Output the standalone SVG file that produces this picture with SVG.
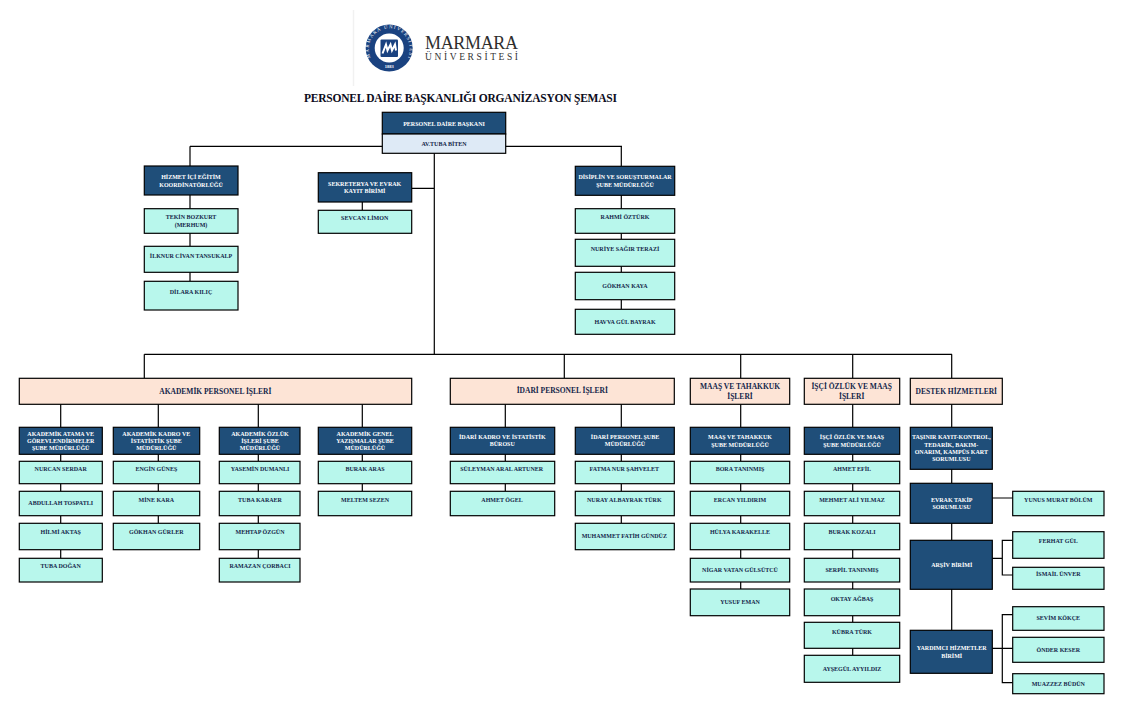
<svg xmlns="http://www.w3.org/2000/svg" width="1127" height="709" viewBox="0 0 1127 709">
<style>
text{font-family:"Liberation Serif","Times New Roman",serif;font-weight:bold;text-anchor:middle}
rect{stroke:#000;stroke-width:1.2}
.d rect{fill:#1f4e79}.d text{fill:#fff;font-size:6px}
.n rect{fill:#b8f7ec}.n text{fill:#14264a;font-size:6px}
.p rect{fill:#fde4d6}.p text{fill:#14264a;font-size:7.5px}
.c{fill:none;stroke:#000;stroke-width:1.2}
</style>
<rect width="1127" height="709" fill="#fff" style="stroke:none"/>
<g id="logo">
<path d="M353.500 10V86" stroke="#f1f1f1" stroke-width="1.500"/>
<circle cx="389.200" cy="48" r="23.500" fill="#1a4280"/>
<circle cx="389.200" cy="48" r="14.500" fill="#fff"/>
<rect x="380.500" y="39.500" width="17.500" height="17.500" rx="1" style="fill:#1a4280;stroke:none"/>
<path d="M382.500 53.500l3.500-9 1.500 6 3-6 1.500 6 3-6 1 6" fill="none" stroke="#fff" stroke-width="2"/>
<path id="ringTop" d="M372 60A20.500 20.500 0 1 1 406.400 60" fill="none"/>
<text font-size="4.800" fill="#fff" style="font-weight:normal"><textPath href="#ringTop" startOffset="50%" textLength="82" lengthAdjust="spacing">MARMARA ÜNİVERSİTESİ</textPath></text>
<text font-size="4.500" fill="#fff" x="389.200" y="67.500">1883</text>
<text x="425" y="48.500" font-size="18" fill="#2e2e2e" textLength="93" style="text-anchor:start;font-weight:normal">MARMARA</text>
<text x="425" y="59.500" font-size="9.500" fill="#333" textLength="93" lengthAdjust="spacing" style="text-anchor:start;font-weight:normal">ÜNİVERSİTESİ</text>
</g>
<text id="title" x="460.500" y="101.500" font-size="11.500" fill="#0c0c20" textLength="313">PERSONEL DAİRE BAŞKANLIĞI ORGANİZASYON ŞEMASI</text>
<g id="connectors">
<path class="c" d="M190 146.300H622M190 146.300V166M621.300 146.300V166M434.300 153V354.300M411.700 188.300H434.300
M190 195V209M190 233V246M190 272V281M362.300 202V210
M621.300 195V209M621.300 233V239M621.300 266V272M621.300 300V309
M144.300 354.300H952M144.300 354.300V378M564.300 354.300V378M740.700 354.300V378M852.700 354.300V378M951.700 354.300V378
M60.700 404V427M60.700 454V461M60.700 484V491M60.700 516V523M60.700 550V558
M158.300 404V427M158.300 454V461M158.300 484V491M158.300 516V523
M258.300 404V427M258.300 454V461M258.300 484V491M258.300 516V523M258.300 550V558
M362.300 404V427M362.300 454V461M362.300 484V491
M505.300 404V427M505.300 454V461M505.300 484V491
M621.300 404V427M621.300 454V461M621.300 484V491M621.300 516V523
M740.700 404V427M740.700 454V461M740.700 484V491M740.700 516V523M740.700 550V558M740.700 582V589
M852.700 404V427M852.700 454V461M852.700 484V491M852.700 516V523M852.700 550V558M852.700 582V589M852.700 616V622M852.700 648V655
M951.700 404V427M951.700 469V483M951.700 523V540M951.700 589V630
M992 498H1013M992 558.300H1002.300M1013 540.300H1002.300V575H1013M992 648.300H1013M1013 614.700H1002.300V682.700H1013"/>
</g>
<g id="head">
<rect x="382.300" y="112.300" width="123.400" height="21.700" fill="#1f4e79"/>
<rect x="382.300" y="134" width="123.400" height="19.300" fill="#deeaf6"/>
<text x="444" y="125.700" font-size="6" fill="#fff">PERSONEL DAİRE BAŞKANI</text>
<text x="444" y="145.700" font-size="6" fill="#14264a">AV.TUBA BİTEN</text>
</g>
<g id="hizmet" class="d"><rect x="144.300" y="166" width="93.700" height="29"/><text x="191" y="178.700">HİZMET İÇİ EĞİTİM</text><text x="191" y="186.700">KOORDİNATÖRLÜĞÜ</text></g>
<g id="tekin" class="n"><rect x="144.300" y="208.700" width="93.700" height="24.600"/><text x="191" y="218.700">TEKİN BOZKURT</text><text x="191" y="227">(MERHUM)</text></g>
<g id="ilknur" class="n"><rect x="144.300" y="246.300" width="93.700" height="26"/><text x="191" y="257.700">İLKNUR CİVAN TANSUKALP</text></g>
<g id="dilara" class="n"><rect x="144.300" y="281.300" width="93.700" height="28.700"/><text x="191" y="293.700">DİLARA KILIÇ</text></g>
<g id="sekreterya" class="d"><rect x="318.300" y="172.700" width="93.400" height="29.300"/><text x="364.700" y="186">SEKRETERYA VE EVRAK</text><text x="364.700" y="192.700">KAYIT  BİRİMİ</text></g>
<g id="sevcan" class="n"><rect x="318.300" y="210.300" width="93.400" height="23"/><text x="364.700" y="219.700">SEVCAN LİMON</text></g>
<g id="disiplin" class="d"><rect x="575.300" y="166.300" width="99.400" height="29"/><text x="625" y="179">DİSİPLİN VE SORUŞTURMALAR</text><text x="625" y="187">ŞUBE MÜDÜRLÜĞÜ</text></g>
<g id="rahmi" class="n"><rect x="575.300" y="208.700" width="99.400" height="24.600"/><text x="625" y="218.700">RAHMİ ÖZTÜRK</text></g>
<g id="nuriye" class="n"><rect x="575.300" y="239.300" width="99.400" height="27"/><text x="625" y="251">NURİYE SAĞIR TERAZİ</text></g>
<g id="gokhan" class="n"><rect x="575.300" y="272.300" width="99.400" height="27.400"/><text x="625" y="288">GÖKHAN KAYA</text></g>
<g id="havva" class="n"><rect x="575.300" y="309.300" width="99.400" height="25"/><text x="625" y="323.700">HAVVA GÜL BAYRAK</text></g>

<g id="akademik" class="p"><rect x="19.300" y="378.300" width="392.400" height="26"/><text x="215.300" y="393.500">AKADEMİK PERSONEL İŞLERİ</text></g>
<g id="idari" class="p"><rect x="450.300" y="378.300" width="224" height="26"/><text x="562.300" y="393.300">İDARİ PERSONEL İŞLERİ</text></g>
<g id="maas" class="p"><rect x="690.300" y="378.300" width="99.400" height="26"/><text x="740" y="389">MAAŞ VE TAHAKKUK</text><text x="740" y="399.300">İŞLERİ</text></g>
<g id="isci" class="p"><rect x="804.300" y="378.300" width="95.400" height="26"/><text x="851.700" y="389">İŞÇİ ÖZLÜK VE MAAŞ</text><text x="851.700" y="399.300">İŞLERİ</text></g>
<g id="destek" class="p"><rect x="910.300" y="378.300" width="92" height="26"/><text x="956.300" y="393.500">DESTEK HİZMETLERİ</text></g>

<g id="aka-atama" class="d"><rect x="19.300" y="427.300" width="83" height="27"/><text x="60.700" y="436">AKADEMİK ATAMA VE</text><text x="60.700" y="443">GÖREVLENDİRMELER</text><text x="60.700" y="449.700">ŞUBE MÜDÜRLÜĞÜ</text></g>
<g id="nurcan" class="n"><rect x="19.300" y="461.300" width="83" height="22.400"/><text x="60.700" y="471">NURCAN SERDAR</text></g>
<g id="abdullah" class="n"><rect x="19.300" y="491.300" width="83" height="24.400"/><text x="60.700" y="504.700">ABDULLAH TOSPATLI</text></g>
<g id="hilmi" class="n"><rect x="19.300" y="523.300" width="83" height="26.400"/><text x="60.700" y="533.700">HİLMİ AKTAŞ</text></g>
<g id="tuba-d" class="n"><rect x="19.300" y="558.300" width="83" height="23.700"/><text x="60.700" y="567.700">TUBA DOĞAN</text></g>

<g id="aka-kadro" class="d"><rect x="113.300" y="427.300" width="86.400" height="27"/><text x="156.300" y="436">AKADEMİK KADRO VE</text><text x="156.300" y="443">İSTATİSTİK ŞUBE</text><text x="156.300" y="449.700">MÜDÜRLÜĞÜ</text></g>
<g id="engin" class="n"><rect x="113.300" y="461.300" width="86.400" height="22.400"/><text x="156.300" y="471">ENGİN GÜNEŞ</text></g>
<g id="mine" class="n"><rect x="113.300" y="491.300" width="86.400" height="24.400"/><text x="156.300" y="502">MİNE KARA</text></g>
<g id="gokhan-g" class="n"><rect x="113.300" y="523.300" width="86.400" height="26.400"/><text x="156.300" y="533.700">GÖKHAN GÜRLER</text></g>

<g id="aka-ozluk" class="d"><rect x="219.300" y="427.300" width="80.700" height="27"/><text x="260" y="436">AKADEMİK ÖZLÜK</text><text x="260" y="443">İŞLERİ ŞUBE</text><text x="260" y="449.700">MÜDÜRLÜĞÜ</text></g>
<g id="yasemin" class="n"><rect x="219.300" y="461.300" width="80.700" height="22.400"/><text x="260" y="471">YASEMİN DUMANLI</text></g>
<g id="tuba-k" class="n"><rect x="219.300" y="491.300" width="80.700" height="24.400"/><text x="260" y="502">TUBA KARAER</text></g>
<g id="mehtap" class="n"><rect x="219.300" y="523.300" width="80.700" height="26.400"/><text x="260" y="533.700">MEHTAP ÖZGÜN</text></g>
<g id="ramazan" class="n"><rect x="219.300" y="558.300" width="80.700" height="23.700"/><text x="260" y="567.700">RAMAZAN ÇORBACI</text></g>

<g id="aka-genel" class="d"><rect x="318.300" y="427.300" width="93.400" height="27"/><text x="365" y="436">AKADEMİK GENEL</text><text x="365" y="443">YAZIŞMALAR ŞUBE</text><text x="365" y="449.700">MÜDÜRLÜĞÜ</text></g>
<g id="burak-a" class="n"><rect x="318.300" y="461.300" width="93.400" height="22.400"/><text x="365" y="471">BURAK ARAS</text></g>
<g id="meltem" class="n"><rect x="318.300" y="491.300" width="93.400" height="24.400"/><text x="365" y="502">MELTEM SEZEN</text></g>

<g id="idari-kadro" class="d"><rect x="450.300" y="427.300" width="104.400" height="27"/><text x="502.300" y="438.700">İDARİ  KADRO VE İSTATİSTİK</text><text x="502.300" y="446.300">BÜROSU</text></g>
<g id="suleyman" class="n"><rect x="450.300" y="461.300" width="104.400" height="22.400"/><text x="501.700" y="471">SÜLEYMAN ARAL ARTUNER</text></g>
<g id="ahmet-o" class="n"><rect x="450.300" y="491.300" width="104.400" height="24.400"/><text x="502" y="502">AHMET ÖGEL</text></g>

<g id="idari-personel" class="d"><rect x="575.300" y="427.300" width="99" height="27"/><text x="625" y="438.700">İDARİ  PERSONEL ŞUBE</text><text x="625" y="446.300">MÜDÜRLÜĞÜ</text></g>
<g id="fatma" class="n"><rect x="575.300" y="461.300" width="99" height="22.400"/><text x="624.300" y="471">FATMA NUR ŞAHVELET</text></g>
<g id="nuray" class="n"><rect x="575.300" y="491.300" width="99" height="24.400"/><text x="624.300" y="502">NURAY ALBAYRAK TÜRK</text></g>
<g id="muhammet" class="n"><rect x="575.300" y="523.300" width="99" height="26.400"/><text x="624.300" y="538">MUHAMMET FATİH GÜNDÜZ</text></g>

<g id="maas-sube" class="d"><rect x="690.300" y="427.300" width="99.400" height="27"/><text x="740" y="438.700">MAAŞ VE TAHAKKUK</text><text x="740" y="447">ŞUBE MÜDÜRLÜĞÜ</text></g>
<g id="bora" class="n"><rect x="690.300" y="461.300" width="99.400" height="22.400"/><text x="740" y="471">BORA TANINMIŞ</text></g>
<g id="ercan" class="n"><rect x="690.300" y="491.300" width="99.400" height="24.400"/><text x="740" y="502">ERCAN YILDIRIM</text></g>
<g id="hulya" class="n"><rect x="690.300" y="523.300" width="99.400" height="26.400"/><text x="740" y="534">HÜLYA KARAKELLE</text></g>
<g id="nigar" class="n"><rect x="690.300" y="558.300" width="99.400" height="23.700"/><text x="740" y="571.700">NİGAR VATAN GÜLSÜTCÜ</text></g>
<g id="yusuf" class="n"><rect x="690.300" y="589" width="99.400" height="26.700"/><text x="740" y="604">YUSUF EMAN</text></g>

<g id="isci-sube" class="d"><rect x="804.300" y="427.300" width="95.400" height="27"/><text x="852" y="438.700">İŞÇİ ÖZLÜK VE MAAŞ</text><text x="852" y="447">ŞUBE MÜDÜRLÜĞÜ</text></g>
<g id="ahmet-e" class="n"><rect x="804.300" y="461.300" width="95.400" height="22.400"/><text x="852" y="471">AHMET EFİL</text></g>
<g id="mehmet" class="n"><rect x="804.300" y="491.300" width="95.400" height="24.400"/><text x="852" y="502">MEHMET ALİ YILMAZ</text></g>
<g id="burak-k" class="n"><rect x="804.300" y="523.300" width="95.400" height="26.400"/><text x="852" y="534">BURAK KOZALI</text></g>
<g id="serpil" class="n"><rect x="804.300" y="558.300" width="95.400" height="23.700"/><text x="852" y="572">SERPİL TANINMIŞ</text></g>
<g id="oktay" class="n"><rect x="804.300" y="589" width="95.400" height="26.700"/><text x="852" y="601">OKTAY AĞBAŞ</text></g>
<g id="kubra" class="n"><rect x="804.300" y="622.300" width="95.400" height="26"/><text x="852" y="634">KÜBRA TÜRK</text></g>
<g id="aysegul" class="n"><rect x="804.300" y="655.300" width="95.400" height="27"/><text x="852" y="671">AYŞEGÜL AYYILDIZ</text></g>

<g id="tasinir" class="d"><rect x="910.300" y="427.300" width="82" height="42"/><text x="951.300" y="439.300">TAŞINIR KAYIT-KONTROL,</text><text x="951.300" y="447">TEDARİK, BAKIM-</text><text x="951.300" y="454.300">ONARIM, KAMPÜS KART</text><text x="951.300" y="461.300">SORUMLUSU</text></g>
<g id="evrak" class="d"><rect x="910.300" y="483.300" width="82" height="40"/><text x="951.700" y="502">EVRAK  TAKİP</text><text x="951.700" y="509">SORUMLUSU</text></g>
<g id="arsiv" class="d"><rect x="910.300" y="540.300" width="82" height="49"/><text x="951.700" y="567">ARŞİV BİRİMİ</text></g>
<g id="yardimci" class="d"><rect x="910.300" y="630.300" width="82" height="43"/><text x="951.700" y="650.300">YARDIMCI HİZMETLER</text><text x="951.700" y="658">BİRİMİ</text></g>
<g id="yunus" class="n"><rect x="1012.700" y="491.300" width="91.300" height="24.400"/><text x="1058.300" y="502">YUNUS MURAT BÖLÜM</text></g>
<g id="ferhat" class="n"><rect x="1012.700" y="531.700" width="91.300" height="26.600"/><text x="1058.300" y="542.700">FERHAT GÜL</text></g>
<g id="ismail" class="n"><rect x="1012.700" y="567.300" width="91.300" height="22"/><text x="1058.300" y="576">İSMAİL ÜNVER</text></g>
<g id="sevim" class="n"><rect x="1012.700" y="606.700" width="91.300" height="23.600"/><text x="1058.300" y="620">SEVİM KÖKÇE</text></g>
<g id="onder" class="n"><rect x="1012.700" y="637.300" width="91.300" height="25"/><text x="1058.300" y="652">ÖNDER KESER</text></g>
<g id="muazzez" class="n"><rect x="1012.700" y="673.700" width="91.300" height="20"/><text x="1058.300" y="685.700">MUAZZEZ BÜDÜN</text></g>
</svg>
